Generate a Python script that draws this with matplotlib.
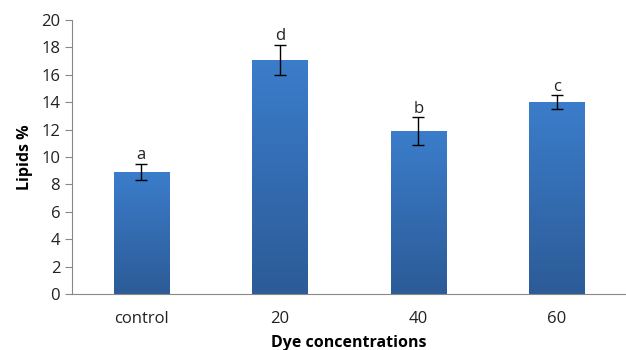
import matplotlib
matplotlib.use("Agg")

import matplotlib.pyplot as plt
import numpy as np
from matplotlib.colors import LinearSegmentedColormap
from matplotlib.patches import Rectangle

categories = ["control", "20", "40", "60"]
lipids = [8.9, 17.1, 11.9, 14.0]
err_low = [0.6, 1.1, 1.0, 0.5]
err_high = [0.6, 1.1, 1.0, 0.5]
letters = ["a", "d", "b", "c"]

plt.rcParams["font.family"] = ["Open Sans", "DejaVu Sans"]

fig = plt.figure(figsize=(6.26, 3.5), dpi=100)
ax = fig.add_axes([0.115, 0.16, 0.885, 0.783])

x = np.arange(len(categories))
width = 0.4
bars = ax.bar(x, lipids, width=width, color="none", edgecolor="none", zorder=2)

# vertical gradient fill, like the office-style bars
cmap = LinearSegmentedColormap.from_list("bluegrad", ["#2c5b97", "#3b7dcb"])
grad = np.linspace(0, 1, 256).reshape(-1, 1)
for b in bars:
    x0, y0 = b.get_x(), b.get_y()
    w, h = b.get_width(), b.get_height()
    im = ax.imshow(grad, cmap=cmap, origin="lower", aspect="auto",
                   extent=[x0, x0 + w, y0, y0 + h], zorder=2)
    clip = Rectangle((x0, y0), w, h, transform=ax.transData)
    im.set_clip_path(clip)

ax.errorbar(x, lipids, yerr=[err_low, err_high], fmt="none", ecolor="black",
            elinewidth=1, capsize=4, capthick=1, zorder=3)

for xi, v, eh, lab in zip(x, lipids, err_high, letters):
    ax.text(xi, v + eh + 0.05, lab, ha="center", va="bottom", fontsize=12, color="#222222", zorder=4)

ax.set_xlim(-0.5, len(categories) - 0.5)
ax.set_ylim(0, 20)
ax.set_yticks(np.arange(0, 21, 2))
ax.set_xticks(x)
ax.set_xticklabels(categories)
ax.tick_params(axis="x", length=0, pad=12, labelsize=12, colors="#222222")
ax.tick_params(axis="y", length=5, color="#888888", labelsize=12, colors="#222222")
for lbl in ax.get_yticklabels():
    lbl.set_color("#222222")
for s in ["top", "right"]:
    ax.spines[s].set_visible(False)
ax.spines["left"].set_color("#888888")
ax.spines["bottom"].set_color("#888888")

ax.set_ylabel("Lipids %", fontsize=11.5, fontweight="bold", labelpad=6)
ax.set_xlabel("Dye concentrations", fontsize=11.5, fontweight="bold", labelpad=6)

fig.savefig("out.png", dpi=100)
